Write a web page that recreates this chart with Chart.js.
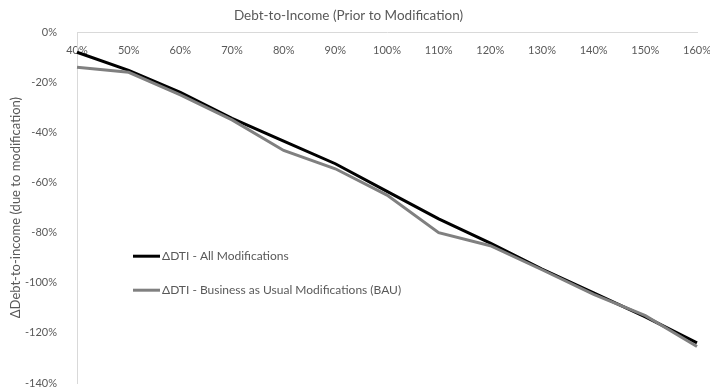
<!DOCTYPE html>
<html>
<head>
<meta charset="utf-8">
<script src="https://cdn.jsdelivr.net/npm/chart.js@4/dist/chart.umd.min.js"></script>
<style>
  html, body { margin: 0; padding: 0; background: #fff; }
  #wrap { width: 710px; height: 390px; position: relative; }
</style>
</head>
<body>
<div id="wrap"><canvas id="c"></canvas></div>
<script>
// DTI before modification (categories)
const dtiLabels = ['40%', '50%', '60%', '70%', '80%', '90%', '100%', '110%', '120%', '130%', '140%', '150%', '160%'];
// Change in DTI, percent
const allMods = [-8, -15.2, -24, -34.4, -43.5, -52.5, -63.5, -74.5, -84.2, -94.5, -104, -113.6, -124];
const bauMods = [-14, -16, -25, -35, -47.2, -54.5, -65, -80, -85.2, -94.8, -104.6, -113.1, -125.4];
// Y axis ticks
const yTicks = [0, -20, -40, -60, -80, -100, -120, -140];

const seriesNames = ['\u0394DTI - All Modifications', '\u0394DTI - Business as Usual Modifications (BAU)'];
const seriesColors = ['#000000', '#808080'];

const FONT = 'Lato, "Open Sans", sans-serif';
const TEXT = '#595959';

// In-plot legend drawn next to the left axis
const innerLegend = {
  id: 'innerLegend',
  afterDatasetsDraw(chart) {
    const { ctx, chartArea } = chart;
    const x0 = chartArea.left + 56;
    const rows = [chartArea.top + 224, chartArea.top + 258];
    ctx.save();
    ctx.font = '12px ' + FONT;
    ctx.textBaseline = 'middle';
    ctx.textAlign = 'left';
    rows.forEach((y, i) => {
      ctx.strokeStyle = seriesColors[i];
      ctx.lineWidth = 3;
      ctx.beginPath();
      ctx.moveTo(x0, y);
      ctx.lineTo(x0 + 27, y);
      ctx.stroke();
      ctx.fillStyle = TEXT;
      ctx.fillText(seriesNames[i], x0 + 29, y);
    });
    ctx.restore();
  }
};

new Chart(document.getElementById('c'), {
  type: 'line',
  data: {
    labels: dtiLabels,
    datasets: [
      { label: seriesNames[0], data: allMods, borderColor: seriesColors[0], backgroundColor: seriesColors[0],
        borderWidth: 3, pointRadius: 0, tension: 0, order: 2 },
      { label: seriesNames[1], data: bauMods, borderColor: seriesColors[1], backgroundColor: seriesColors[1],
        borderWidth: 3, pointRadius: 0, tension: 0, order: 1 }
    ]
  },
  options: {
    responsive: true,
    maintainAspectRatio: false,
    animation: false,
    layout: { padding: { left: 0, right: 13, top: 0, bottom: 7 } },
    plugins: {
      legend: { display: false },
      tooltip: { enabled: false },
      title: {
        display: true,
        text: 'Debt-to-Income (Prior to Modification)',
        color: TEXT,
        font: { family: FONT, size: 13.5, weight: 'normal' },
        padding: { top: 8, bottom: 8 }
      }
    },
    scales: {
      x: {
        position: { y: 0 },
        offset: false,
        afterFit(scale) { scale.paddingLeft = 0; scale.paddingRight = 0; },
        grid: { display: false },
        border: { display: true, color: '#d9d9d9', width: 1 },
        ticks: { color: TEXT, font: { family: FONT, size: 11 }, padding: 4, maxRotation: 0, autoSkip: false }
      },
      y: {
        min: -140,
        max: 0,
        afterBuildTicks(scale) { scale.ticks = yTicks.map(v => ({ value: v })); },
        afterFit(scale) { scale.width = 77; scale.paddingBottom = 0; scale.paddingTop = 0; },
        grid: { display: false },
        border: { display: true, color: '#d9d9d9', width: 1 },
        ticks: { color: TEXT, font: { family: FONT, size: 11 }, padding: 12, callback: v => v + '%' },
        title: {
          display: true,
          text: '\u0394Debt-to-income (due to modification)',
          color: TEXT,
          font: { family: FONT, size: 13 },
          padding: { top: 8, bottom: 0 }
        }
      }
    }
  },
  plugins: [innerLegend]
});
</script>
</body>
</html>
